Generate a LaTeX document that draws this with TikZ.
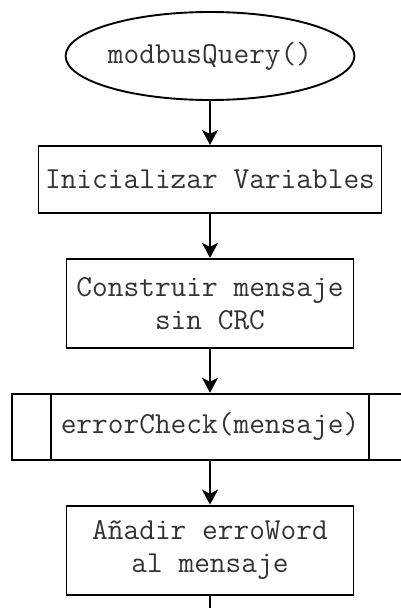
\documentclass[tikz,border=0pt]{standalone}
\usepackage{fontspec}
\usetikzlibrary{positioning,shapes.geometric,arrows.meta}

\begin{document}
\begin{tikzpicture}[-{Stealth[length=15pt,width=16pt,inset=4pt]},auto,node distance=44pt,
                    line width=1.9pt,
                    main node/.style={draw,text=black!80,font=\ttfamily\fontsize{30.5}{33}\selectfont,align=center,inner sep=0pt},
                    start node/.style={main node,ellipse,minimum width=277pt,minimum height=88pt},
                    step node/.style={main node,rectangle,minimum width=287pt,minimum height=89pt},
                    sub node/.style={main node,rectangle,minimum width=396pt,minimum height=66pt}]

        \useasboundingbox (-210pt,56pt) rectangle (191pt,-552pt);

        % Define vertices
        \node[start node] (1) {modbusQuery()};
        \node[main node,minimum width=343pt,minimum height=67pt] (2) [below=of 1] {Inicializar Variables};
        \node[step node] (3) [below=of 2] {Construir mensaje\\sin CRC};
        \node[sub node] (4) [below=of 3] {errorCheck(mensaje)};
        \node[step node] (5) [below=of 4] {Añadir erroWord\\al mensaje};
        \coordinate[below=30pt of 5] (6);

        % Side bars of the subroutine box
        \draw[-] ([xshift=40pt]4.north west) -- ([xshift=40pt]4.south west);
        \draw[-] ([xshift=-40pt]4.north east) -- ([xshift=-40pt]4.south east);

        % Draw edges
        \path
            (1) edge (2)
            (2) edge (3)
            (3) edge (4)
            (4) edge (5);
        \draw[-] (5) -- (6);

        \end{tikzpicture}
\end{document}
